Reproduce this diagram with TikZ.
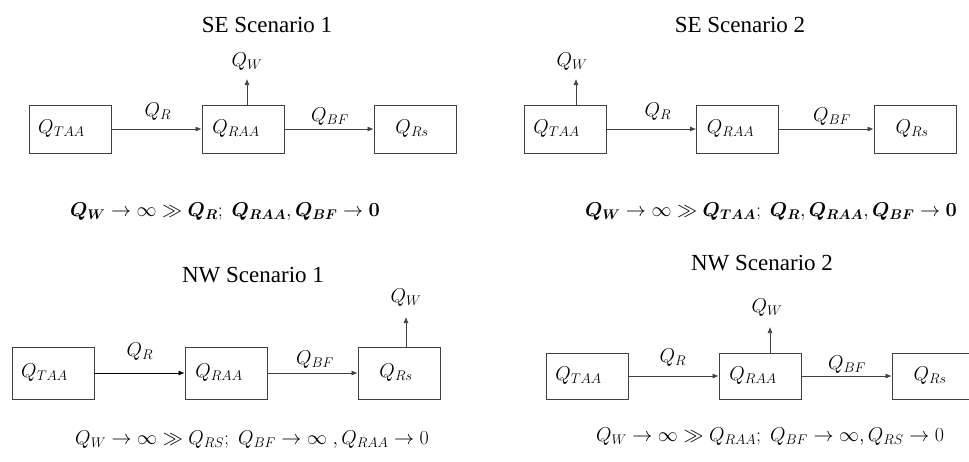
\RequirePackage{fix-cm}
\documentclass[tikz,border=0pt]{standalone}
\usepackage{amsmath,bm}
\usepackage{fontspec}
\setmainfont{Liberation Serif}
\usetikzlibrary{arrows.meta}
\newcommand{\fs}{\fontsize{20}{24}\selectfont}
\newcommand{\ft}{\fontsize{23}{27}\selectfont}
\begin{document}
\begin{tikzpicture}[x=1pt,y=-1pt,
  box/.style={draw=black!75, line width=0.8pt, minimum width=82pt, minimum height=48pt, inner sep=0pt, font=\fs},
  flow/.style={draw=black!75, line width=0.7pt, -{Latex[length=6pt,width=5pt]}},
  lbl/.style={font=\fs, inner sep=0pt},
  ttl/.style={font=\ft, inner sep=0pt},
  frm/.style={font=\fs, inner sep=0pt}]
\useasboundingbox (0,0) rectangle (969,461);

% ---------- SE Scenario 1 ----------
\node[ttl] (t1) at (267,25) {SE Scenario 1};
\node[box] (a1) at (70,129) {$Q_{TAA}$\kern17pt};
\node[box] (b1) at (243,129) {$Q_{RAA}$\kern14pt};
\node[box] (c1) at (415,129) {$Q_{Rs}$\kern6pt};
\coordinate (w1) at (247,79);
\draw[flow] (a1) -- (b1);
\draw[flow] (b1) -- (c1);
\draw[flow] (w1 |- b1.north) -- (w1);
\node[lbl] (r1) at (158,112) {$Q_R$};
\node[lbl] (f1) at (330,117) {$Q_{BF}$};
\node[lbl] (q1) at (247,62) {$Q_W$};
\node[frm] (e1) at (225,212) {$\bm{Q_W}\rightarrow\infty\gg\bm{Q_R};\;\bm{Q_{RAA}},\bm{Q_{BF}}\rightarrow\bm{0}$};

% ---------- SE Scenario 2 ----------
\node[ttl] (t2) at (740,25) {SE Scenario 2};
\node[box] (a2) at (565,129) {$Q_{TAA}$\kern17pt};
\node[box] (b2) at (737.5,129) {$Q_{RAA}$\kern14pt};
\node[box] (c2) at (915,129) {$Q_{Rs}$\kern6pt};
\coordinate (w2) at (576,79);
\draw[flow] (a2) -- (b2);
\draw[flow] (b2) -- (c2);
\draw[flow] (w2 |- a2.north) -- (w2);
\node[lbl] (r2) at (658,112) {$Q_R$};
\node[lbl] (f2) at (832,117) {$Q_{BF}$};
\node[lbl] (q2) at (572,62) {$Q_W$};
\node[frm] (e2) at (771,212) {$\bm{Q_W}\rightarrow\infty\gg\bm{Q_{TAA}};\;\bm{Q_R},\bm{Q_{RAA}},\bm{Q_{BF}}\rightarrow\bm{0}$};

% ---------- NW Scenario 1 ----------
\node[ttl] (t3) at (253,275) {NW Scenario 1};
\node[box, minimum height=52pt] (a3) at (53,373) {$Q_{TAA}$\kern17pt};
\node[box, minimum height=52pt] (b3) at (226,373) {$Q_{RAA}$\kern14pt};
\node[box, minimum height=52pt] (c3) at (399,373) {$Q_{Rs}$\kern6pt};
\coordinate (w3) at (406,317);
\draw[flow, draw=black] (a3) -- (b3);
\draw[flow] (b3) -- (c3);
\draw[flow] (w3 |- c3.north) -- (w3);
\node[lbl] (r3) at (140,352) {$Q_R$};
\node[lbl] (f3) at (315,360) {$Q_{BF}$};
\node[lbl] (q3) at (406,298) {$Q_W$};
\node[frm] (e3) at (252,440) {$Q_W\rightarrow\infty\gg Q_{RS};\; Q_{BF}\rightarrow\infty\;,Q_{RAA}\rightarrow0$};

% ---------- NW Scenario 2 ----------
\node[ttl] (t4) at (762,263) {NW Scenario 2};
\node[box, minimum height=46pt] (a4) at (587,376) {$Q_{TAA}$\kern17pt};
\node[box, minimum height=46pt] (b4) at (760,376) {$Q_{RAA}$\kern14pt};
\node[box, minimum height=46pt] (c4) at (933,376) {$Q_{Rs}$\kern6pt};
\coordinate (w4) at (770,327);
\draw[flow] (a4) -- (b4);
\draw[flow] (b4) -- (c4);
\draw[flow] (w4 |- b4.north) -- (w4);
\node[lbl] (r4) at (673,358) {$Q_R$};
\node[lbl] (f4) at (847,365) {$Q_{BF}$};
\node[lbl] (q4) at (767,308) {$Q_W$};
\node[frm] (e4) at (770,437) {$Q_W\rightarrow\infty\gg Q_{RAA};\; Q_{BF}\rightarrow\infty,Q_{RS}\rightarrow0$};
\end{tikzpicture}
\end{document}
